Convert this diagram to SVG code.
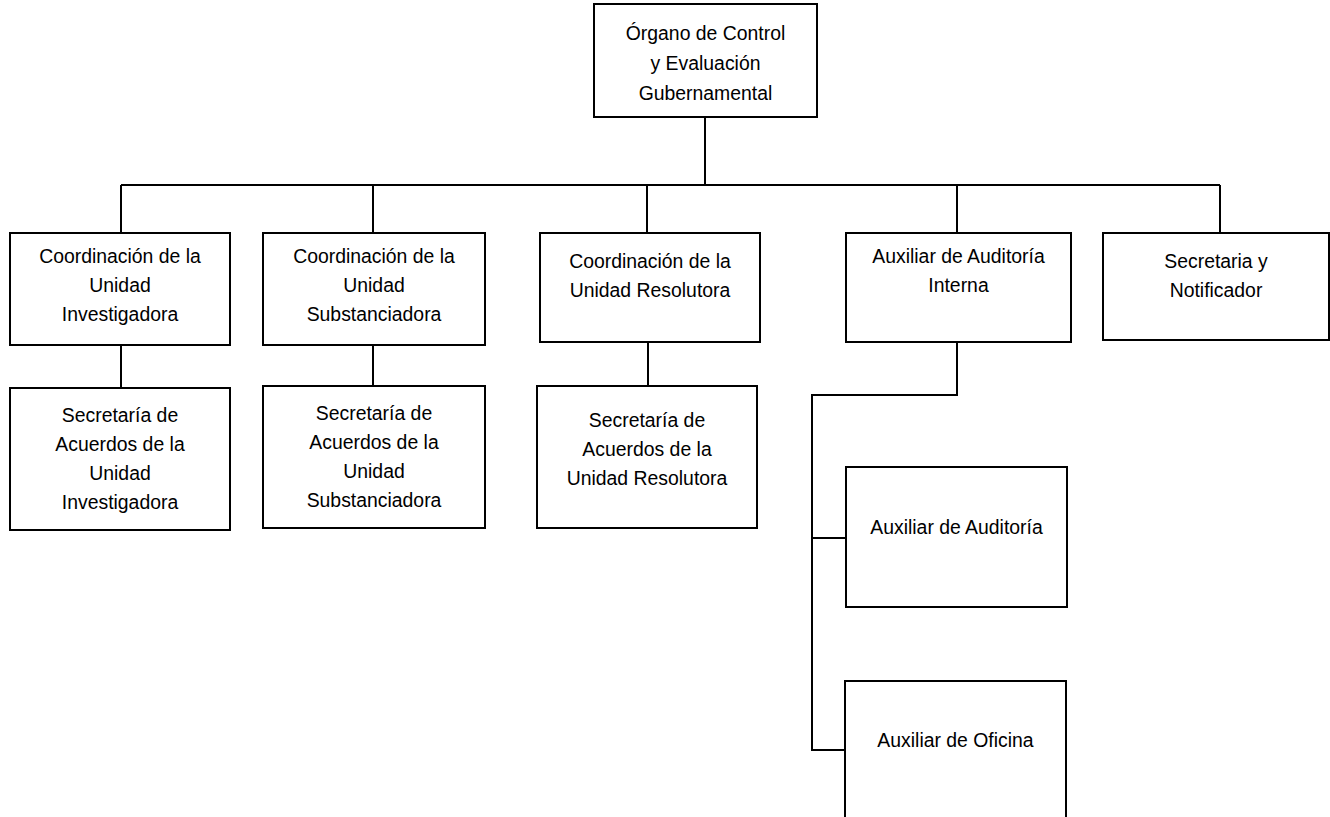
<svg xmlns="http://www.w3.org/2000/svg" width="1330" height="817" viewBox="0 0 1330 817">
<style>
.box{fill:#fff;stroke:#000;stroke-width:2}
.ln{fill:none;stroke:#000;stroke-width:2}
text{font-family:"Liberation Sans",Arial,sans-serif;font-size:19.4px;fill:#000;text-anchor:middle}
</style>
<rect width="1330" height="817" fill="#fff"/>
<g id="connectors">
<path class="ln" d="M705,117 V185 M121,185 H1220 M121,185 V233 M373,185 V233 M647,185 V233 M957,185 V233 M1220,185 V233"/>
<path class="ln" d="M121,345 V388 M373,345 V386 M648,342 V386"/>
<path class="ln" d="M957,342 V395 H812 V750 H845 M813,538 H846"/>
</g>
<g id="n-organo"><rect class="box" x="594" y="4" width="223" height="113"/>
<text x="705.5" y="40">Órgano de Control</text><text x="705.5" y="70">y Evaluación</text><text x="705.5" y="100">Gubernamental</text></g>
<g id="n-coord-inv"><rect class="box" x="10" y="233" width="220" height="112"/>
<text x="120" y="263">Coordinación de la</text><text x="120" y="292">Unidad</text><text x="120" y="321">Investigadora</text></g>
<g id="n-coord-sub"><rect class="box" x="263" y="233" width="222" height="112"/>
<text x="374" y="263">Coordinación de la</text><text x="374" y="292">Unidad</text><text x="374" y="321">Substanciadora</text></g>
<g id="n-coord-res"><rect class="box" x="540" y="233" width="220" height="109"/>
<text x="650" y="268">Coordinación de la</text><text x="650" y="297">Unidad Resolutora</text></g>
<g id="n-aux-int"><rect class="box" x="846" y="233" width="225" height="109"/>
<text x="958.5" y="263">Auxiliar de Auditoría</text><text x="958.5" y="292">Interna</text></g>
<g id="n-sec-not"><rect class="box" x="1103" y="233" width="226" height="107"/>
<text x="1216" y="268">Secretaria y</text><text x="1216" y="297">Notificador</text></g>
<g id="n-sec-inv"><rect class="box" x="10" y="388" width="220" height="142"/>
<text x="120" y="422">Secretaría de</text><text x="120" y="451">Acuerdos de la</text><text x="120" y="480">Unidad</text><text x="120" y="509">Investigadora</text></g>
<g id="n-sec-sub"><rect class="box" x="263" y="386" width="222" height="142"/>
<text x="374" y="420">Secretaría de</text><text x="374" y="449">Acuerdos de la</text><text x="374" y="478">Unidad</text><text x="374" y="507">Substanciadora</text></g>
<g id="n-sec-res"><rect class="box" x="537" y="386" width="220" height="142"/>
<text x="647" y="427">Secretaría de</text><text x="647" y="456">Acuerdos de la</text><text x="647" y="485">Unidad Resolutora</text></g>
<g id="n-aux-aud"><rect class="box" x="846" y="467" width="221" height="140"/>
<text x="956.5" y="534">Auxiliar de Auditoría</text></g>
<g id="n-aux-ofi"><rect class="box" x="845" y="681" width="221" height="150"/>
<text x="955.5" y="747">Auxiliar de Oficina</text></g>
</svg>
